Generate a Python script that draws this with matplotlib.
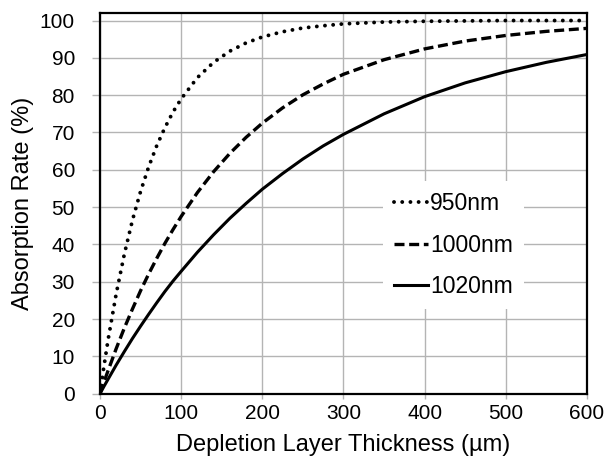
import matplotlib
matplotlib.use("Agg")
import matplotlib.pyplot as plt

plt.rcParams['font.family'] = ['Liberation Sans', 'DejaVu Sans']

# depletion layer thickness (um) and absorption rate (%)
thickness = [0, 5, 10, 20, 30, 40, 50, 60, 70, 80, 90, 100, 120, 140, 160,
             180, 200, 225, 250, 275, 300, 350, 400, 450, 500, 550, 600]
rate_950 = [0, 7.5, 14.5, 26.8, 37.4, 46.5, 54.2, 60.8, 66.5, 71.3, 75.5,
            79.0, 84.7, 88.8, 91.8, 94.0, 95.6, 97.0, 98.0, 98.6, 99.1,
            99.6, 99.8, 99.9, 100, 100, 100]
rate_1000 = [0, 3.2, 6.2, 12.1, 17.6, 22.7, 27.6, 32.1, 36.3, 40.3, 44.0,
             47.5, 53.9, 59.5, 64.4, 68.7, 72.5, 76.6, 80.1, 83.0, 85.6,
             89.5, 92.4, 94.5, 96.0, 97.1, 97.9]
rate_1020 = [0, 2.0, 3.9, 7.7, 11.3, 14.8, 18.1, 21.3, 24.4, 27.4, 30.2,
             32.8, 37.9, 42.6, 47.0, 51.0, 54.8, 59.0, 62.9, 66.4, 69.5,
             75.0, 79.6, 83.3, 86.3, 88.8, 90.9]
labels = ["950nm", "1000nm", "1020nm"]

fig = plt.figure(figsize=(6.06, 4.65), dpi=100)
ax = fig.add_axes([0.165, 0.1533, 0.8036, 0.8194])

ax.plot(thickness, rate_950, color='black', lw=2.8,
        linestyle=(0, (0.01, 2.1)), dash_capstyle='round', label=labels[0])
ax.plot(thickness, rate_1000, color='black', lw=2.4,
        linestyle=(0, (3.0, 1.4)), label=labels[1])
ax.plot(thickness, rate_1020, color='black', lw=2.2, label=labels[2])

ax.set_xlim(0, 600)
ax.set_ylim(0, 102.1)
ax.set_xticks(range(0, 601, 100))
ax.set_yticks(range(0, 101, 10))
ax.grid(True, color='#b4b4b4', lw=1)
ax.set_axisbelow(True)
ax.tick_params(width=1, color='#b4b4b4', labelsize=15)
ax.tick_params(axis='x', length=3.6, pad=4)
ax.tick_params(axis='y', length=6, pad=12)
for s in ax.spines.values():
    s.set_linewidth(1.6)

ax.set_xlabel("Depletion Layer Thickness (\u00b5m)", fontsize=17, labelpad=8)
ax.set_ylabel("Absorption Rate (%)", fontsize=17, labelpad=4)

leg = ax.legend(loc='center', bbox_to_anchor=(0.726, 0.39), fontsize=16.5,
                frameon=True, fancybox=False, framealpha=1,
                handlelength=1.45, handletextpad=0.1, labelspacing=0.8,
                borderpad=0.5)
leg.get_frame().set_edgecolor('none')

fig.savefig("out.png", dpi=100)
